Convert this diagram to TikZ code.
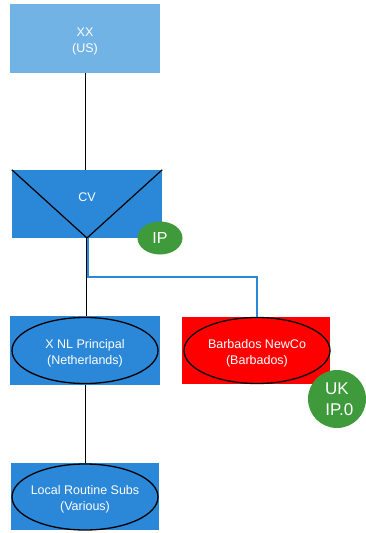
\documentclass[tikz,border=0pt]{standalone}
\usepackage{fontspec}
\setmainfont{Liberation Sans}
\usetikzlibrary{shapes.geometric}
\definecolor{lightb}{HTML}{72B3E5}
\definecolor{midb}{HTML}{2B87D8}
\definecolor{gr}{HTML}{3E9A3A}
\definecolor{rd}{HTML}{FF0000}
\definecolor{linkb}{HTML}{2B87D8}
\begin{document}
\begin{tikzpicture}[x=1pt,y=-1pt,
  box/.style={rectangle,minimum width=150pt,minimum height=69pt,inner sep=0pt,text=white,font=\fontsize{12.5}{16}\selectfont,align=center},
  lbl/.style={text=white,font=\fontsize{12.5}{16}\selectfont,align=center,inner sep=0pt},
  ovalline/.style={draw=black,line width=1.3pt},
  badge/.style={ellipse,fill=gr,text=white,inner sep=0pt,align=center},
  conn/.style={draw=black,line width=1pt}]
\useasboundingbox (0,0) rectangle (365,533);
\node[box,fill=lightb] (xx) at (85,38.5) {};
\node[lbl] (xxl) at (85,41) {XX\\(US)};
\node[box,fill=midb,minimum width=150pt,minimum height=68pt] (cv) at (87,204) {};
\coordinate (vtip) at (87,238);
\draw[black,line width=1.2pt] (cv.north west) -- (vtip) -- (cv.north east);
\node[lbl] (cvl) at (87,197) {CV};
\node[badge,minimum width=45pt,minimum height=33pt,font=\fontsize{16}{18}\selectfont] (ip) at (160,238) {IP};
\node[box,fill=midb] (nlb) at (85,350.5) {};
\draw[ovalline] (nlb.center) ellipse [x radius=73, y radius=33];
\node[lbl] (nl) at (85,353) {X NL Principal\\(Netherlands)};
\node[box,fill=rd,minimum width=148pt,minimum height=67pt] (bbb) at (256,350.5) {};
\coordinate (bbc) at (257,350.5);
\draw[ovalline] (bbc) ellipse [x radius=73, y radius=33];
\node[lbl] (bb) at (257,353) {Barbados NewCo\\(Barbados)};
\node[box,fill=midb,minimum width=148pt,minimum height=67pt] (lrb) at (85,496.5) {};
\draw[ovalline] (85,497) ellipse [x radius=73, y radius=33];
\node[lbl] (lr) at (85,499.5) {Local Routine Subs\\(Various)};
\node[badge,minimum width=58pt,minimum height=58pt,font=\fontsize{17}{21}\selectfont] (uk) at (337,399) {UK\\\ IP.0};
\draw[conn] (xx.south) -- (xx.south |- cv.north);
\draw[conn] ([xshift=-1pt]vtip) -- ([xshift=-1pt]vtip |- nlb.north);
\draw[linkb,line width=1.2pt] ([xshift=1pt]vtip) -- ([xshift=1pt]vtip |- 0,277) -| (bbb.north -| bbc);
\draw[conn] (nlb.south) -- (lrb.north);
\end{tikzpicture}
\end{document}
